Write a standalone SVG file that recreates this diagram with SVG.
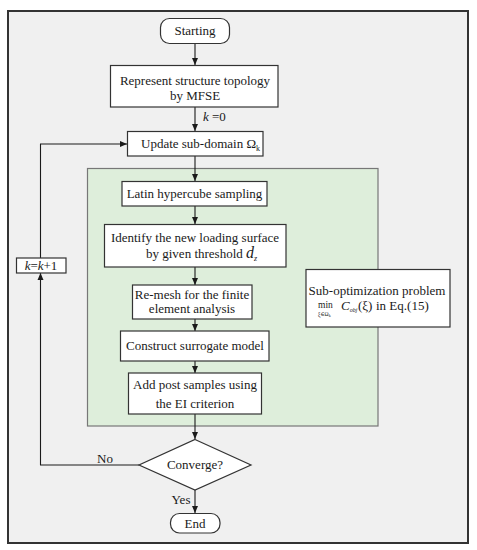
<svg xmlns="http://www.w3.org/2000/svg" width="477" height="550" viewBox="0 0 477 550" font-family="'Liberation Serif', 'Times New Roman', 'DejaVu Serif', serif">
<defs>
<marker id="ah" markerWidth="8" markerHeight="8" refX="7" refY="4" orient="auto" markerUnits="userSpaceOnUse">
<path d="M0,1 L7,4 L0,7 Z" fill="#1a1a1a"/>
</marker>
<style>
text{font-family:'Liberation Serif','Times New Roman','DejaVu Serif',serif;font-size:13px;fill:#1a1a1a}
.t{text-anchor:middle}
.s{text-anchor:start}
.box{fill:#fff;stroke:#333;stroke-width:1.2}
.ln{fill:none;stroke:#1a1a1a;stroke-width:1.1}
.it{font-style:italic}
</style>
</defs>
<rect x="0" y="0" width="477" height="550" fill="#fff"/>
<rect id="frame" x="8" y="11" width="460" height="532" fill="#f0f0f0" stroke="#333" stroke-width="2"/>
<rect id="loop-region" x="87.5" y="168.5" width="290.5" height="257.5" fill="#deeedb" stroke="#777" stroke-width="1.2"/>

<g id="connectors">
<line class="ln" x1="195" y1="43" x2="195" y2="65" marker-end="url(#ah)"/>
<line class="ln" x1="195" y1="107" x2="195" y2="131" marker-end="url(#ah)"/>
<line class="ln" x1="195" y1="156" x2="195" y2="181" marker-end="url(#ah)"/>
<line class="ln" x1="195" y1="206" x2="195" y2="224" marker-end="url(#ah)"/>
<line class="ln" x1="195" y1="267" x2="195" y2="285" marker-end="url(#ah)"/>
<line class="ln" x1="195" y1="319" x2="195" y2="331" marker-end="url(#ah)"/>
<line class="ln" x1="195" y1="361" x2="195" y2="373" marker-end="url(#ah)"/>
<line class="ln" x1="195" y1="414" x2="195" y2="439" marker-end="url(#ah)"/>
<line class="ln" x1="195" y1="490" x2="195" y2="513" marker-end="url(#ah)"/>
<polyline class="ln" points="139,465 40.5,465 40.5,273" marker-end="url(#ah)"/>
<polyline class="ln" points="40.5,258 40.5,144 127,144" marker-end="url(#ah)"/>
<text class="s" x="203" y="121"><tspan class="it">k</tspan> =0</text>
<text class="t" x="105" y="463">No</text>
<text class="t" x="181" y="504">Yes</text>
</g>

<g id="start">
<rect x="160.5" y="18.5" width="69" height="25" rx="9" class="box"/>
<text class="t" x="195" y="35">Starting</text>
</g>
<g id="represent">
<rect x="110.5" y="65.5" width="167.5" height="41.5" class="box"/>
<text class="t" x="195" y="85">Represent structure topology</text>
<text class="t" x="195" y="100">by MFSE</text>
</g>
<g id="update">
<rect x="127.5" y="131.5" width="135.5" height="24.5" class="box"/>
<text class="s" x="141" y="148">Update sub-domain  Ω<tspan font-size="8" dy="3">k</tspan></text>
</g>
<g id="latin">
<rect x="122" y="181.5" width="145" height="24.5" class="box"/>
<text class="t" x="194.5" y="198">Latin hypercube sampling</text>
</g>
<g id="identify">
<rect x="104.5" y="224.5" width="181.5" height="42.5" class="box"/>
<text class="t" x="195" y="242">Identify the new loading surface</text>
<text class="s" x="146" y="258">by given threshold  <tspan class="it" font-size="16">d</tspan><tspan class="it" font-size="8" dy="3">z</tspan></text>
</g>
<g id="increment">
<rect x="16.5" y="258" width="49.5" height="15" class="box"/>
<text class="t" x="41" y="270"><tspan class="it">k</tspan>=<tspan class="it">k</tspan>+1</text>
</g>
<g id="suboptimization">
<rect x="306" y="269.5" width="144" height="57.5" class="box"/>
<text class="t" x="377" y="294.5">Sub-optimization problem</text>
<text class="s" x="318" y="307.5" style="font-size:9.5px">min</text>
<text class="s" x="318" y="316" style="font-size:5.5px">ξ∈Ω<tspan font-size="4" dy="1">k</tspan></text>
<text class="s" x="341" y="309.5"><tspan class="it">C</tspan><tspan class="it" font-size="6" dy="2">obj</tspan></text>
<text class="s" x="358" y="309.5">(ξ)</text>
<text class="s" x="376" y="309.5">in Eq.(15)</text>
</g>
<g id="remesh">
<rect x="132.5" y="285" width="119.5" height="34" class="box"/>
<text class="t" x="192" y="299">Re-mesh for the finite</text>
<text class="t" x="192" y="313">element analysis</text>
</g>
<g id="construct">
<rect x="120.5" y="331" width="148.5" height="30" class="box"/>
<text class="t" x="195" y="350">Construct surrogate model</text>
</g>
<g id="addpost">
<rect x="128.5" y="373" width="133" height="41" class="box"/>
<text class="t" x="195" y="389">Add post samples using</text>
<text class="t" x="195" y="408">the EI criterion</text>
</g>
<g id="converge">
<polygon points="195,439.5 251,465 195,490 139,465" class="box"/>
<text class="t" x="195" y="469">Converge?</text>
</g>
<g id="end">
<rect x="170.5" y="513.5" width="49.5" height="19.5" rx="9" class="box"/>
<text class="t" x="195" y="528">End</text>
</g>
</svg>
